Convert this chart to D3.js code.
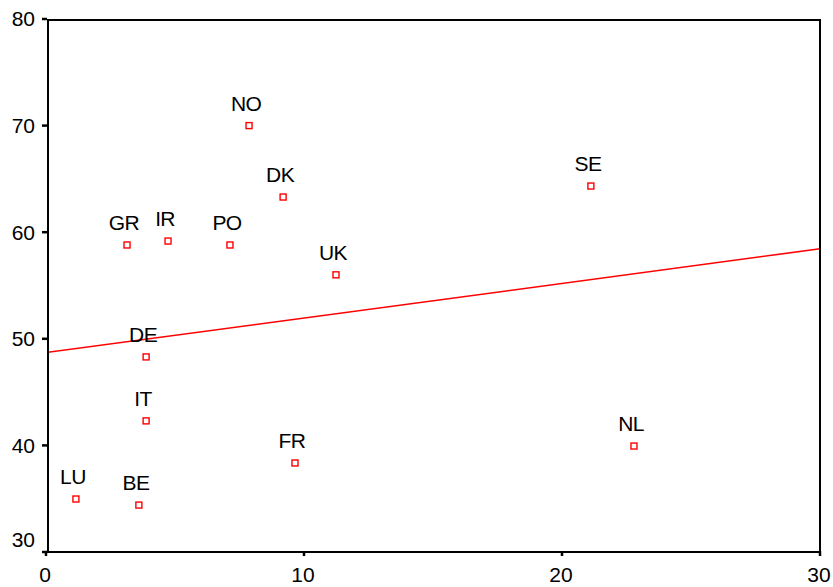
<!DOCTYPE html>
<html>
<head>
<meta charset="utf-8">
<script src="https://cdn.jsdelivr.net/npm/d3@7"></script>
<style>
  body { margin: 0; background: #fff; }
  text { font-family: "Liberation Sans", Arial, sans-serif; fill: #000; }
</style>
</head>
<body>
<div id="chart"></div>
<script>
// country codes and their values
const countries = ['NO', 'DK', 'SE', 'GR', 'IR', 'PO', 'UK', 'DE', 'IT', 'FR', 'NL', 'LU', 'BE'];
const xValues = [7.87, 9.19, 21.12, 3.14, 4.73, 7.13, 11.24, 3.88, 3.88, 9.65, 22.79, 1.16, 3.6];
const yValues = [70.0, 63.3, 64.33, 58.8, 59.17, 58.8, 56.0, 48.3, 42.3, 38.35, 39.94, 34.97, 34.4];
const xTicks = [0, 10, 20, 30];
const yTicks = [30, 40, 50, 60, 70, 80];

const width = 833, height = 587;
const frame = { left: 48, right: 820, top: 20, bottom: 552 };

const svg = d3.select('#chart').append('svg')
  .attr('width', width)
  .attr('height', height);

const x = d3.scaleLinear().domain([0, 30]).range([46, 820]);
const y = d3.scaleLinear().domain([30, 80]).range([552, 19]);

// least squares fit line
const mx = d3.mean(xValues), my = d3.mean(yValues);
let sxy = 0, sxx = 0;
xValues.forEach((v, i) => {
  sxy += (v - mx) * (yValues[i] - my);
  sxx += (v - mx) * (v - mx);
});
const slope = sxy / sxx;
const intercept = my - slope * mx;

svg.append('clipPath').attr('id', 'plotclip')
  .append('rect')
  .attr('x', frame.left).attr('y', frame.top)
  .attr('width', frame.right - frame.left)
  .attr('height', frame.bottom - frame.top);

svg.append('line')
  .attr('clip-path', 'url(#plotclip)')
  .attr('x1', x(0)).attr('y1', y(intercept))
  .attr('x2', x(30)).attr('y2', y(intercept + slope * 30))
  .attr('stroke', '#ff0000')
  .attr('stroke-width', 1.5);

// frame
svg.append('rect')
  .attr('x', frame.left).attr('y', frame.top)
  .attr('width', frame.right - frame.left)
  .attr('height', frame.bottom - frame.top)
  .attr('fill', 'none')
  .attr('stroke', '#000')
  .attr('stroke-width', 2);

// y ticks
svg.selectAll('.ytick').data(yTicks).enter().append('line')
  .attr('x1', 42).attr('x2', 47)
  .attr('y1', d => y(d)).attr('y2', d => y(d))
  .attr('stroke', '#000').attr('stroke-width', 2.5);

svg.selectAll('.ylab').data(yTicks).enter().append('text')
  .attr('x', 35)
  .attr('y', (d, i) => y(d) + (i === 0 ? -12 : 0))
  .attr('dy', '0.35em')
  .attr('text-anchor', 'end')
  .style('font-size', '21px')
  .text(d => d);

// x ticks
svg.selectAll('.xtick').data(xTicks).enter().append('line')
  .attr('x1', d => x(d)).attr('x2', d => x(d))
  .attr('y1', 551).attr('y2', 556)
  .attr('stroke', '#000').attr('stroke-width', 2.5);

svg.selectAll('.xlab').data(xTicks).enter().append('text')
  .attr('x', d => x(d) - 1)
  .attr('y', 582)
  .attr('text-anchor', 'middle')
  .style('font-size', '21px')
  .text(d => d);

// points and labels
const pts = svg.selectAll('.pt').data(countries).enter().append('g')
  .attr('transform', (d, i) => `translate(${x(xValues[i])},${y(yValues[i])})`);

pts.append('rect')
  .attr('x', -3).attr('y', -3)
  .attr('width', 6).attr('height', 6)
  .attr('fill', '#fff')
  .attr('stroke', '#ff0000')
  .attr('stroke-width', 1.4);

pts.append('text')
  .attr('x', -3).attr('y', -15)
  .attr('text-anchor', 'middle')
  .style('font-size', '21px')
  .style('letter-spacing', '-0.6px')
  .text(d => d);
</script>
</body>
</html>
